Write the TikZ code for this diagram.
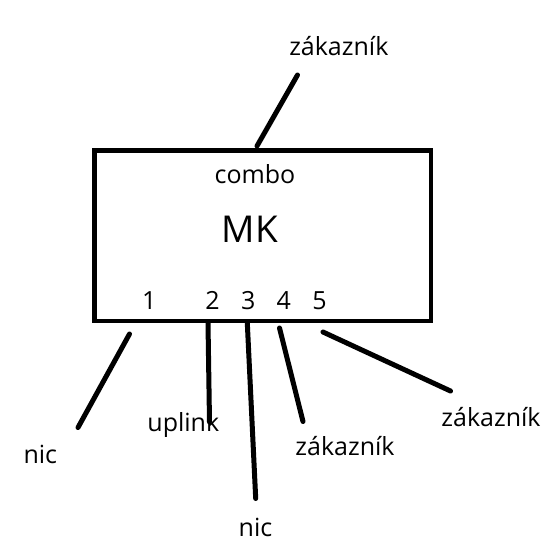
\documentclass[tikz,border=0pt]{standalone}
\usepackage{fontspec}
\setmainfont{Open Sans}
\begin{document}
\begin{tikzpicture}[x=1pt,y=-1pt,
  lbl/.style={inner sep=0pt,anchor=base,font=\fontsize{25}{30}\selectfont},
  big/.style={inner sep=0pt,anchor=base,font=\fontsize{37}{44}\selectfont},
  wire/.style={line width=5pt,line cap=round}]
\useasboundingbox (0,0) rectangle (556,542);
% box
\draw[line width=4.8pt] (94.5,150.5) rectangle (431,321);
\coordinate (box) at (262,236);
% texts
\node[lbl] (ztop) at (338.8,55.7) {zákazník};
\node[lbl] (combo) at (255,183.3) {combo};
\node[big] (mk) at (250,242.7) {MK};
\node[lbl] (p1) at (149.2,309.3) {1};
\node[lbl] (p2) at (212.5,309.3) {2};
\node[lbl] (p3) at (248.3,309.3) {3};
\node[lbl] (p4) at (283.7,309.3) {4};
\node[lbl] (p5) at (319.5,309.3) {5};
\node[lbl] (nic1) at (40.3,463.3) {nic};
\node[lbl] (uplink) at (183.3,431.7) {uplink};
\node[lbl] (zak4) at (345,455) {zákazník};
\node[lbl] (nic3) at (255.5,536.7) {nic};
\node[lbl] (zak5) at (491,426) {zákazník};
% connector end points
\coordinate (t0) at (257,146);
\coordinate (t1) at (297.5,75);
\coordinate (a0) at (129.5,334);
\coordinate (a1) at (78,427.5);
\coordinate (b0) at (208,323);
\coordinate (b1) at (209.5,422);
\coordinate (c0) at (247.3,323);
\coordinate (c1) at (255.7,498.5);
\coordinate (d0) at (279.5,328);
\coordinate (d1) at (303,421.5);
\coordinate (e0) at (323,332);
\coordinate (e1) at (450.5,391);
% connectors
\draw[wire] (t0) -- (t1);
\draw[wire] (a0) -- (a1);
\draw[wire] (b0) -- (b1);
\draw[wire] (c0) -- (c1);
\draw[wire] (d0) -- (d1);
\draw[wire] (e0) -- (e1);
\end{tikzpicture}
\end{document}
